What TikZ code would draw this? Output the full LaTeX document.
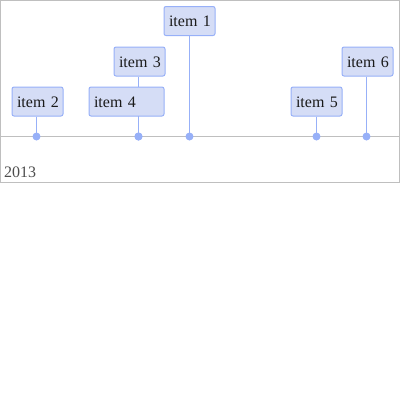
\documentclass[tikz,border=0pt]{standalone}
\usepackage{fontspec}
\setmainfont{Liberation Serif}
\usetikzlibrary{backgrounds}
\definecolor{itemfill}{HTML}{D5DDF6}
\definecolor{itemline}{HTML}{97B0F8}
\definecolor{gridgray}{HTML}{BFBFBF}
\definecolor{itemtext}{HTML}{1A1A1A}
\definecolor{labelgray}{HTML}{4D4D4D}
\tikzset{
  itembox/.style={draw=itemline, fill=itemfill, line width=1bp, rounded corners=2bp,
    inner xsep=5bp, inner ysep=0pt, minimum height=29bp, text height=11bp, text depth=0pt,
    align=left, anchor=north west, text=itemtext,
    font=\fontsize{16bp}{19bp}\selectfont},
  itemdot/.style={circle, fill=itemline, inner sep=0pt, minimum size=8bp},
  stem/.style={draw=itemline, line width=1bp},
  frameline/.style={draw=gridgray, line width=1bp},
  yearlabel/.style={anchor=base west, inner sep=0pt, text=labelgray,
    font=\fontsize{16bp}{19bp}\selectfont}
}
\begin{document}
\begin{tikzpicture}[x=1bp, y=-1bp]
\useasboundingbox (0,0) rectangle (400,400);
% panel frame and time axis
\draw[frameline] (0.5,0.5) rectangle (399.5,182.5);
\coordinate (axL) at (0,136.5);
\coordinate (axR) at (400,136.5);
\draw[frameline] (axL) -- (axR);
% item boxes
\node[itembox, text width=41bp] (i1) at (163.5,6) {\mbox{item 1}};
\node[itembox, text width=41bp] (i2) at (11.5,86.5) {\mbox{item 2}};
\node[itembox, text width=41bp] (i3) at (113.5,46.5) {\mbox{item 3}};
\node[itembox, text width=65bp] (i4) at (88.5,86.5) {\mbox{item 4}};
\node[itembox, text width=41bp] (i5) at (290.5,86.5) {\mbox{item 5}};
\node[itembox, text width=41bp] (i6) at (341.5,46.5) {\mbox{item 6}};
% dots on the axis
\node[itemdot] (d1) at (189.5,136.5) {};
\node[itemdot] (d2) at (36.5,136.5) {};
\node[itemdot] (d3) at (138.5,136.5) {};
\node[itemdot] (d4) at (138.5,136.5) {};
\node[itemdot] (d5) at (316.5,136.5) {};
\node[itemdot] (d6) at (366.5,136.5) {};
% stems behind the boxes
\begin{pgfonlayer}{background}
\draw[stem] (i1.south -| d1) -- (d1.center);
\draw[stem] (i2.south -| d2) -- (d2.center);
\draw[stem] (i3.south -| d3) -- (d3.center);
\draw[stem] (i4.south -| d4) -- (d4.center);
\draw[stem] (i5.south -| d5) -- (d5.center);
\draw[stem] (i6.south -| d6) -- (d6.center);
\end{pgfonlayer}
% year label
\node[yearlabel] (yr) at (4,177.5) {2013};
\end{tikzpicture}
\end{document}
